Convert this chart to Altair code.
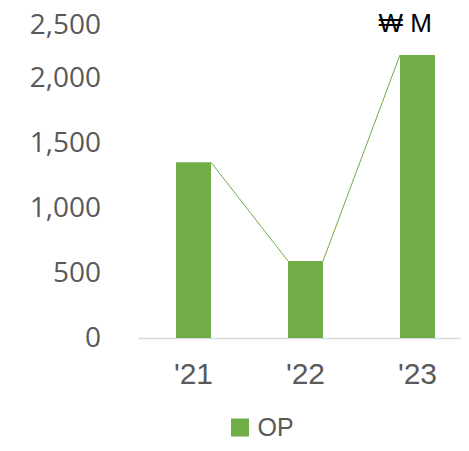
import altair as alt
import pandas as pd

years = ["'21", "'22", "'23"]
op_values = [1356, 594, 2184]
unit_label = ["₩ M"]

bars_df = pd.DataFrame({"year": years, "value": op_values, "series": ["OP"] * 3})
lines_df = pd.DataFrame({
    "year": years[:-1],
    "next_year": years[1:],
    "value": op_values[:-1],
    "next_value": op_values[1:],
})
unit_df = pd.DataFrame({"label": unit_label})

GREEN = "#70AD47"
GRAY = "#595959"

xscale = alt.Scale(domain=years, range=[0, 336], paddingInner=0.6875, paddingOuter=0.34375)
yscale = alt.Scale(domain=[0, 2500])

bars = alt.Chart(bars_df).mark_bar(color=GREEN).encode(
    x=alt.X("year:N", scale=xscale, sort=years,
            axis=alt.Axis(title=None, labelAngle=0, ticks=False, domainColor="#D9D9D9",
                          domainWidth=1.5, labelFont="Liberation Sans", labelFontSize=30,
                          labelColor=GRAY, labelPadding=21)),
    y=alt.Y("value:Q", scale=yscale,
            axis=alt.Axis(title=None, values=[0, 500, 1000, 1500, 2000, 2500], format=",d",
                          grid=False, domain=False, ticks=False, labelFont="Open Sans",
                          labelFontSize=28, labelColor=GRAY, labelPadding=37,
                          labelOffset={"condition": {"test": "datum.value === 2500", "value": 11},
                                       "value": 0})),
    color=alt.Color("series:N", scale=alt.Scale(range=[GREEN]),
                    legend=alt.Legend(title=None, orient="none", legendX=90, legendY=401,
                                      symbolType="square", symbolSize=324, symbolStrokeWidth=0,
                                      labelFont="Liberation Sans", labelFontSize=25,
                                      labelColor=GRAY, labelOffset=5, padding=0)),
)

lines = alt.Chart(lines_df).mark_rule(color=GREEN, strokeWidth=1).encode(
    x=alt.X("year:N", scale=xscale, sort=years, bandPosition=1),
    x2=alt.X2("next_year:N", bandPosition=0),
    y=alt.Y("value:Q", scale=yscale),
    y2=alt.Y2("next_value:Q"),
)

unit = alt.Chart(unit_df).mark_text(
    align="right", baseline="alphabetic", font="Liberation Sans", fontSize=26, color="#000000"
).encode(
    text="label:N",
    x=alt.value(294.5),
    y=alt.value(18),
)

chart = alt.layer(bars, lines, unit).properties(
    width=323.5,
    height=324,
    autosize=alt.AutoSizeParams(type="none"),
    padding={"left": 129.5, "top": 6, "right": 0, "bottom": 101},
).configure_view(stroke=None)

chart.save("out.html", embed_options={"renderer": "svg", "actions": False})
